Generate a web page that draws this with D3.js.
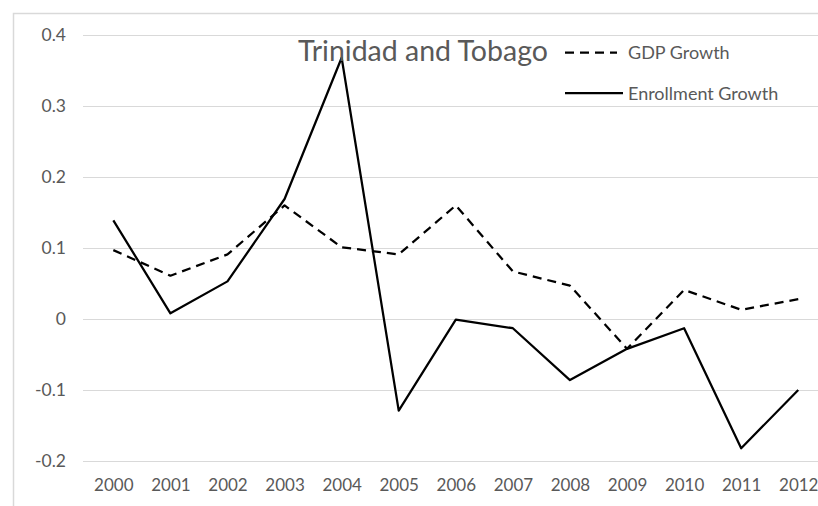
<!DOCTYPE html>
<html>
<head>
<meta charset="utf-8">
<script src="https://cdn.jsdelivr.net/npm/d3@7"></script>
<style>
  html, body { margin: 0; padding: 0; background: #fff; }
  svg { display: block; }
  text { font-family: Lato, "Open Sans", sans-serif; fill: #595959; }
</style>
</head>
<body>
<svg id="chart" width="818" height="506"></svg>
<script>
// Annual growth rates, Trinidad and Tobago
const years = ["2000","2001","2002","2003","2004","2005","2006","2007","2008","2009","2010","2011","2012"];
const gdpGrowth = [0.097, 0.061, 0.091, 0.160, 0.101, 0.091, 0.160, 0.067, 0.047, -0.042, 0.041, 0.013, 0.028];
const enrollmentGrowth = [0.139, 0.008, 0.053, 0.169, 0.368, -0.129, -0.001, -0.013, -0.086, -0.042, -0.013, -0.182, -0.100];
const yTicks = [-0.2, -0.1, 0, 0.1, 0.2, 0.3, 0.4];
const title = "Trinidad and Tobago";
const seriesNames = ["GDP Growth", "Enrollment Growth"];

const W = 818, H = 506;
const svg = d3.select("#chart");

// chart frame (extends past the right and bottom edges)
svg.append("rect")
  .attr("x", 13.5).attr("y", 13.5)
  .attr("width", 900).attr("height", 600)
  .attr("fill", "none").attr("stroke", "#d9d9d9").attr("stroke-width", 1.5);

const x = d3.scalePoint().domain(years).range([84.8, 826.8]).padding(0.5);
const y = d3.scaleLinear().domain([-0.2, 0.4]).range([461, 35]);

// horizontal gridlines
svg.append("g")
  .selectAll("line")
  .data(yTicks)
  .join("line")
  .attr("x1", 83).attr("x2", W)
  .attr("y1", d => Math.round(y(d)) + 0.5).attr("y2", d => Math.round(y(d)) + 0.5)
  .attr("stroke", "#d9d9d9").attr("stroke-width", 1);

// y axis labels (plain hyphen for negatives)
const yAxis = d3.axisLeft(y).tickValues(yTicks).tickSize(0).tickPadding(0)
  .tickFormat(d => d === 0 ? "0" : d.toFixed(1));
svg.append("g")
  .attr("transform", "translate(66,0)")
  .call(yAxis)
  .call(g => g.select(".domain").remove())
  .call(g => g.selectAll("text")
    .style("font-family", "Lato, sans-serif").style("font-size", "17.5px")
    .attr("fill", "#595959"));

// x axis labels
const xAxis = d3.axisBottom(x).tickSize(0).tickPadding(0);
svg.append("g")
  .attr("transform", "translate(0,479)")
  .call(xAxis)
  .call(g => g.select(".domain").remove())
  .call(g => g.selectAll("text")
    .style("font-family", "Lato, sans-serif").style("font-size", "17px")
    .attr("fill", "#595959"));

const line = d3.line().x((d, i) => x(years[i])).y(d => y(d));

svg.append("path")
  .datum(gdpGrowth)
  .attr("d", line)
  .attr("fill", "none").attr("stroke", "#000").attr("stroke-width", 2.25)
  .attr("stroke-dasharray", "9,6").attr("stroke-linejoin", "round");

svg.append("path")
  .datum(enrollmentGrowth)
  .attr("d", line)
  .attr("fill", "none").attr("stroke", "#000").attr("stroke-width", 2.25)
  .attr("stroke-linejoin", "round");

// title
svg.append("text")
  .attr("x", 298).attr("y", 61)
  .style("font-size", "28.5px")
  .text(title);

// legend
const legend = svg.append("g");
const legendRows = [
  { name: seriesNames[0], dash: "9,6", y: 52.5, x2: 617 },
  { name: seriesNames[1], dash: null, y: 93, x2: 623 }
];
legendRows.forEach(r => {
  legend.append("line")
    .attr("x1", 565).attr("x2", r.x2).attr("y1", r.y).attr("y2", r.y)
    .attr("stroke", "#000").attr("stroke-width", 2.25)
    .attr("stroke-dasharray", r.dash);
  legend.append("text")
    .attr("x", 628).attr("y", r.y + 6.5)
    .style("font-size", "18px")
    .text(r.name);
});
</script>
</body>
</html>
